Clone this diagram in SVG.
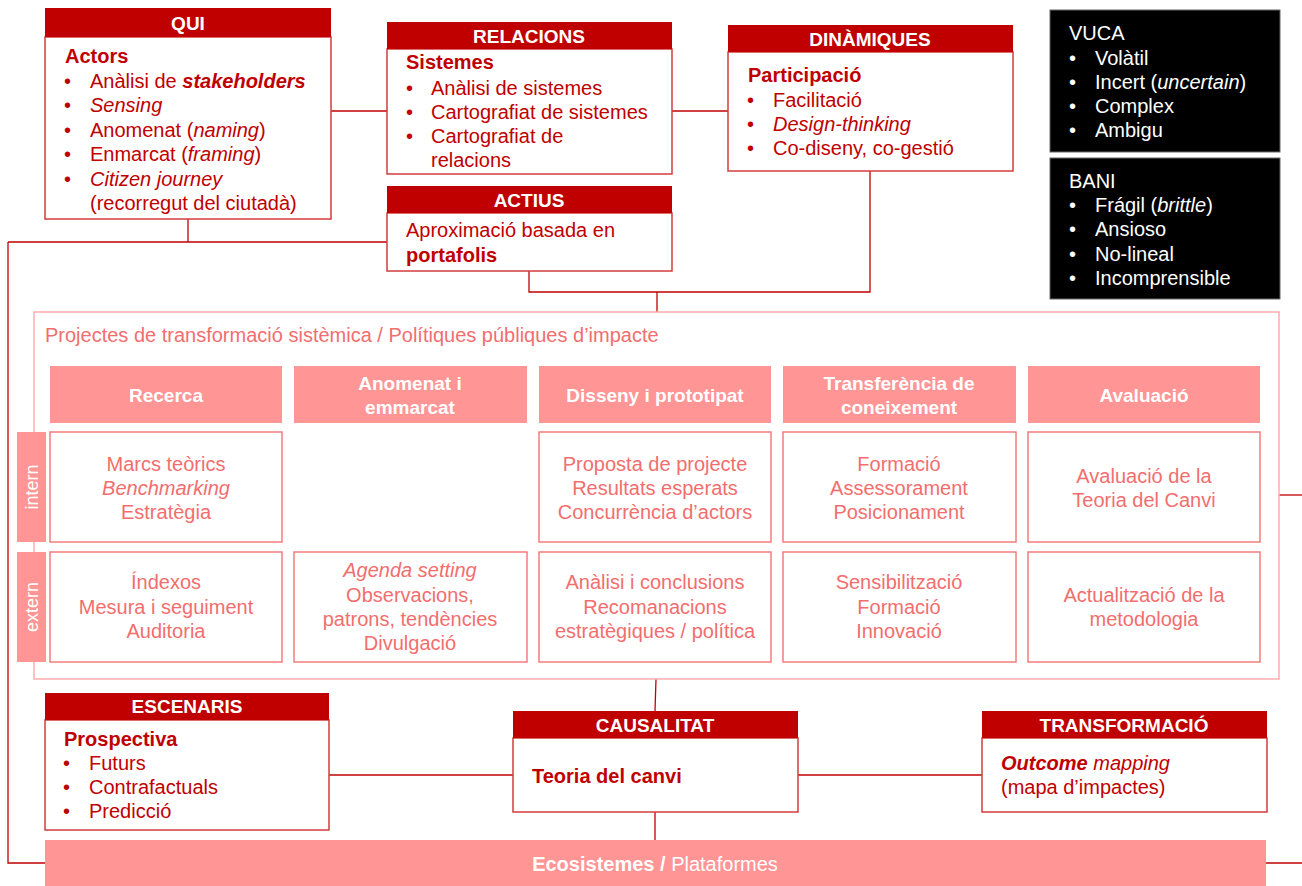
<svg xmlns="http://www.w3.org/2000/svg" width="1302" height="886" viewBox="0 0 1302 886">
<style>
text{font-family:"Liberation Sans",Arial,sans-serif;}
.hd{fill:#C00000;}
.hdt{fill:#fff;font-size:19px;font-weight:bold;text-anchor:middle;}
.body{fill:#fff;stroke:#D23C3C;stroke-width:1.5;}
.bt{fill:#C00000;font-size:20px;}
.b{font-weight:bold;}
.i{font-style:italic;}
.blk{fill:#000;stroke:#666;stroke-width:1;}
.wt{fill:#fff;font-size:20px;}
.pk{fill:#FF9595;}
.pkt{fill:#fff;font-size:19px;font-weight:bold;text-anchor:middle;}
.cell{fill:#fff;stroke:#F47C7C;stroke-width:1.5;}
.ct{fill:#F26E6E;font-size:20px;text-anchor:middle;}
.cont{fill:#fff;stroke:#FFADAD;stroke-width:1.5;}
.ln{fill:none;stroke:#C00000;stroke-width:1.3;}
.side{fill:#fff;font-size:18px;text-anchor:middle;}
</style>

<g id="connectors">
<path class="ln" d="M331 111H387"/>
<path class="ln" d="M672 111H728"/>
<path class="ln" d="M188 219V242"/>
<path class="ln" d="M8 242H387"/>
<path class="ln" d="M8 242V863H45"/>
<path class="ln" d="M529 271V292H870V171"/>
<path class="ln" d="M657 292V312"/>
<path class="ln" d="M1279 495H1302"/>
<path class="ln" d="M1266 863H1302"/>
<path class="ln" d="M656 679L655 711"/>
<path class="ln" d="M655 812V840"/>
<path class="ln" d="M329 775H513"/>
<path class="ln" d="M798 775H982"/>
</g>

<g id="container">
<rect class="cont" x="34" y="312" width="1245" height="367"/>
<text x="45" y="342" style="fill:#F26E6E;font-size:20px">Projectes de transformació sistèmica / Polítiques públiques d’impacte</text>
</g>

<g id="qui">
<rect class="body" x="45" y="37" width="286" height="182"/>
<rect class="hd" x="45" y="8" width="286" height="29"/>
<text class="hdt" x="188" y="30">QUI</text>
<text class="bt b" x="65" y="63">Actors</text>
<text class="bt" x="64" y="88">•</text><text class="bt" x="90" y="88">Anàlisi de <tspan class="b i">stakeholders</tspan></text>
<text class="bt" x="64" y="112">•</text><text class="bt i" x="90" y="112">Sensing</text>
<text class="bt" x="64" y="137">•</text><text class="bt" x="90" y="137">Anomenat (<tspan class="i">naming</tspan>)</text>
<text class="bt" x="64" y="161">•</text><text class="bt" x="90" y="161">Enmarcat (<tspan class="i">framing</tspan>)</text>
<text class="bt" x="64" y="186">•</text><text class="bt i" x="90" y="186">Citizen journey</text>
<text class="bt" x="90" y="210">(recorregut del ciutadà)</text>
</g>

<g id="relacions">
<rect class="body" x="387" y="49" width="285" height="125"/>
<rect class="hd" x="387" y="22" width="285" height="27"/>
<text class="hdt" x="529" y="43">RELACIONS</text>
<text class="bt b" x="406" y="69">Sistemes</text>
<text class="bt" x="406" y="95">•</text><text class="bt" x="431" y="95">Anàlisi de sistemes</text>
<text class="bt" x="406" y="119">•</text><text class="bt" x="431" y="119">Cartografiat de sistemes</text>
<text class="bt" x="406" y="143">•</text><text class="bt" x="431" y="143">Cartografiat de</text>
<text class="bt" x="431" y="167">relacions</text>
</g>

<g id="actius">
<rect class="body" x="387" y="213" width="285" height="58"/>
<rect class="hd" x="387" y="186" width="285" height="27"/>
<text class="hdt" x="529" y="207">ACTIUS</text>
<text class="bt" x="406" y="237">Aproximació basada en</text>
<text class="bt b" x="406" y="262">portafolis</text>
</g>

<g id="dinamiques">
<rect class="body" x="728" y="52" width="285" height="119"/>
<rect class="hd" x="728" y="25" width="285" height="27"/>
<text class="hdt" x="870" y="46">DINÀMIQUES</text>
<text class="bt b" x="748" y="82">Participació</text>
<text class="bt" x="747" y="107">•</text><text class="bt" x="773" y="107">Facilitació</text>
<text class="bt" x="747" y="131">•</text><text class="bt i" x="773" y="131">Design-thinking</text>
<text class="bt" x="747" y="155">•</text><text class="bt" x="773" y="155">Co-diseny, co-gestió</text>
</g>

<g id="vuca">
<rect class="blk" x="1050" y="10" width="230" height="142"/>
<text class="wt" x="1069" y="40">VUCA</text>
<text class="wt" x="1069" y="65">•</text><text class="wt" x="1095" y="65">Volàtil</text>
<text class="wt" x="1069" y="89">•</text><text class="wt" x="1095" y="89">Incert (<tspan class="i">uncertain</tspan>)</text>
<text class="wt" x="1069" y="113">•</text><text class="wt" x="1095" y="113">Complex</text>
<text class="wt" x="1069" y="137">•</text><text class="wt" x="1095" y="137">Ambigu</text>
</g>

<g id="bani">
<rect class="blk" x="1050" y="158" width="230" height="141"/>
<text class="wt" x="1069" y="188">BANI</text>
<text class="wt" x="1069" y="212">•</text><text class="wt" x="1095" y="212">Frágil (<tspan class="i">brittle</tspan>)</text>
<text class="wt" x="1069" y="236">•</text><text class="wt" x="1095" y="236">Ansioso</text>
<text class="wt" x="1069" y="261">•</text><text class="wt" x="1095" y="261">No-lineal</text>
<text class="wt" x="1069" y="285">•</text><text class="wt" x="1095" y="285">Incomprensible</text>
</g>

<g id="col-headers">
<rect class="pk" x="50" y="366" width="232" height="57"/>
<text class="pkt" x="166" y="402">Recerca</text>
<rect class="pk" x="294" y="366" width="233" height="57"/>
<text class="pkt" x="410" y="390">Anomenat i</text>
<text class="pkt" x="410" y="414">emmarcat</text>
<rect class="pk" x="539" y="366" width="232" height="57"/>
<text class="pkt" x="655" y="402">Disseny i prototipat</text>
<rect class="pk" x="783" y="366" width="233" height="57"/>
<text class="pkt" x="899" y="390">Transferència de</text>
<text class="pkt" x="899" y="414">coneixement</text>
<rect class="pk" x="1028" y="366" width="232" height="57"/>
<text class="pkt" x="1144" y="402">Avaluació</text>
</g>

<g id="side-labels">
<rect class="pk" x="17" y="432" width="29" height="110"/>
<text class="side" transform="translate(38 487) rotate(-90)">intern</text>
<rect class="pk" x="17" y="552" width="29" height="110"/>
<text class="side" transform="translate(38 607) rotate(-90)">extern</text>
</g>

<g id="cells-intern">
<rect class="cell" x="50" y="432" width="232" height="110"/>
<text class="ct" x="166" y="471">Marcs teòrics</text>
<text class="ct i" x="166" y="495">Benchmarking</text>
<text class="ct" x="166" y="519">Estratègia</text>
<rect class="cell" x="539" y="432" width="232" height="110"/>
<text class="ct" x="655" y="471">Proposta de projecte</text>
<text class="ct" x="655" y="495">Resultats esperats</text>
<text class="ct" x="655" y="519">Concurrència d’actors</text>
<rect class="cell" x="783" y="432" width="233" height="110"/>
<text class="ct" x="899" y="471">Formació</text>
<text class="ct" x="899" y="495">Assessorament</text>
<text class="ct" x="899" y="519">Posicionament</text>
<rect class="cell" x="1028" y="432" width="232" height="110"/>
<text class="ct" x="1144" y="483">Avaluació de la</text>
<text class="ct" x="1144" y="507">Teoria del Canvi</text>
</g>

<g id="cells-extern">
<rect class="cell" x="50" y="552" width="232" height="110"/>
<text class="ct" x="166" y="589">Índexos</text>
<text class="ct" x="166" y="614">Mesura i seguiment</text>
<text class="ct" x="166" y="638">Auditoria</text>
<rect class="cell" x="294" y="552" width="233" height="110"/>
<text class="ct i" x="410" y="577">Agenda setting</text>
<text class="ct" x="410" y="602">Observacions,</text>
<text class="ct" x="410" y="626">patrons, tendències</text>
<text class="ct" x="410" y="650">Divulgació</text>
<rect class="cell" x="539" y="552" width="232" height="110"/>
<text class="ct" x="655" y="589">Anàlisi i conclusions</text>
<text class="ct" x="655" y="614">Recomanacions</text>
<text class="ct" x="655" y="638">estratègiques / política</text>
<rect class="cell" x="783" y="552" width="233" height="110"/>
<text class="ct" x="899" y="589">Sensibilització</text>
<text class="ct" x="899" y="614">Formació</text>
<text class="ct" x="899" y="638">Innovació</text>
<rect class="cell" x="1028" y="552" width="232" height="110"/>
<text class="ct" x="1144" y="602">Actualització de la</text>
<text class="ct" x="1144" y="626">metodologia</text>
</g>

<g id="escenaris">
<rect class="body" x="45" y="720" width="284" height="110"/>
<rect class="hd" x="45" y="693" width="284" height="27"/>
<text class="hdt" x="187" y="713">ESCENARIS</text>
<text class="bt b" x="64" y="746">Prospectiva</text>
<text class="bt" x="63" y="770">•</text><text class="bt" x="89" y="770">Futurs</text>
<text class="bt" x="63" y="794">•</text><text class="bt" x="89" y="794">Contrafactuals</text>
<text class="bt" x="63" y="818">•</text><text class="bt" x="89" y="818">Predicció</text>
</g>

<g id="causalitat">
<rect class="body" x="513" y="738" width="285" height="74"/>
<rect class="hd" x="513" y="711" width="285" height="27"/>
<text class="hdt" x="655" y="732">CAUSALITAT</text>
<text class="bt b" x="532" y="783">Teoria del canvi</text>
</g>

<g id="transformacio">
<rect class="body" x="982" y="738" width="285" height="74"/>
<rect class="hd" x="982" y="711" width="285" height="27"/>
<text class="hdt" x="1124" y="732">TRANSFORMACIÓ</text>
<text class="bt i" x="1001" y="770"><tspan class="b">Outcome</tspan> mapping</text>
<text class="bt" x="1001" y="794">(mapa d’impactes)</text>
</g>

<g id="ecosistemes">
<rect class="pk" x="45" y="840" width="1221" height="46"/>
<text x="655" y="871" style="fill:#fff;font-size:20px;text-anchor:middle"><tspan font-weight="bold">Ecosistemes /</tspan> Plataformes</text>
</g>
</svg>
